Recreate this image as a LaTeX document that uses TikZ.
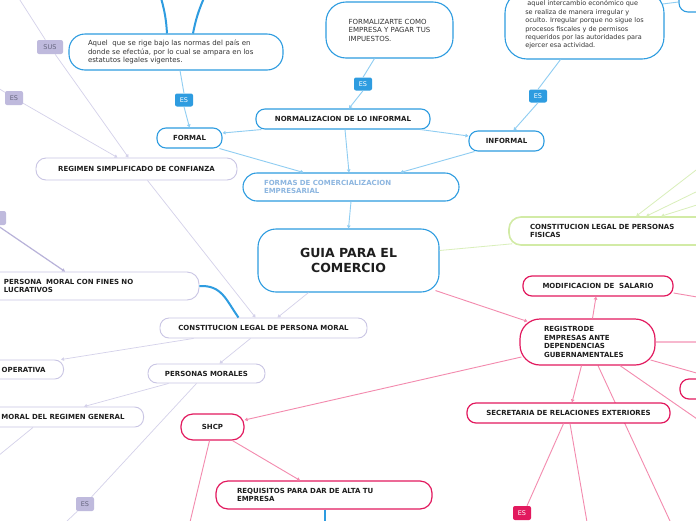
\documentclass[tikz,border=0pt]{standalone}
\usepackage{fontspec}
\setmainfont{DejaVu Sans}
\usetikzlibrary{arrows.meta,backgrounds}
\definecolor{bblue}{HTML}{2E9CE0}
\definecolor{lblue}{HTML}{8FCDF2}
\definecolor{ftext}{HTML}{8DB6E0}
\definecolor{lav}{HTML}{C9C5E4}
\definecolor{lavline}{HTML}{D4D1EA}
\definecolor{lavdark}{HTML}{B8B2D9}
\definecolor{lavfill}{HTML}{BFBADD}
\definecolor{lavtext}{HTML}{66667F}
\definecolor{grn}{HTML}{D2EBA6}
\definecolor{grnline}{HTML}{D9EFBA}
\definecolor{crim}{HTML}{E2195E}
\definecolor{pinkline}{HTML}{F38AAE}
\definecolor{pinkthick}{HTML}{F7B8CE}
\definecolor{ink}{HTML}{1E1E1E}
\definecolor{gtext}{HTML}{333333}
\begin{document}
\begin{tikzpicture}[x=1pt,y=-1pt,
  every node/.style={inner sep=0pt, text=ink},
  bf/.style={font=\fontsize{7}{8.5}\selectfont\bfseries},
  rg/.style={font=\fontsize{7}{8.5}\selectfont, text=gtext},
  rgs/.style={font=\fontsize{6.5}{8.4}\selectfont, text=gtext},
  bbox/.style={draw=bblue, line width=1.1pt, fill=white},
  lbox/.style={draw=lav, line width=0.9pt, fill=white},
  gbox/.style={draw=grn, line width=1.6pt, fill=white},
  cbox/.style={draw=crim, line width=1.2pt, fill=white},
  wh/.style n args={2}{minimum width=#1, minimum height=#2},
  padded/.style n args={2}{text width=#1, inner xsep=#2, align=left},
  tagb/.style={fill=bblue, text=white, rounded corners=2pt, minimum width=18pt, minimum height=13pt, font=\fontsize{6.5}{7}\selectfont},
  tagl/.style={fill=lavfill, text=lavtext, rounded corners=2pt, minimum height=14pt, minimum width=18pt, font=\fontsize{6.5}{7}\selectfont},
  tagc/.style={fill=crim, text=white, rounded corners=2pt, minimum width=18pt, minimum height=14pt, font=\fontsize{6.5}{7}\selectfont},
  bl/.style={draw=lblue, line width=0.9pt},
  lv/.style={draw=lavline, line width=0.7pt},
  gl/.style={draw=grnline, line width=0.8pt},
  pk/.style={draw=pinkline, line width=0.9pt},
  thickb/.style={draw=bblue, line width=2pt},
  arr/.style={-{Triangle[length=3pt,width=3.5pt]}},
]
\useasboundingbox (0,0) rectangle (696,520);
\clip (0,0) rectangle (696,520);
\begin{pgfonlayer}{background}
\fill[white] (0,0) rectangle (696,520);
\end{pgfonlayer}

% ---------- blue branch ----------
\node[bbox, wh={181pt}{63pt}, rounded corners=18pt, align=center, font=\fontsize{12.5}{15}\selectfont\bfseries] (guia) at (348.5,260.5) {GUIA PARA EL\\COMERCIO};
\node[bbox, bf, text=ftext, padded={174pt}{21pt}, minimum height=28pt, rounded corners=14pt] (formas) at (351,187) {FORMAS DE COMERCIALIZACION\\EMPRESARIAL};
\node[bbox, bf, wh={174pt}{20pt}, rounded corners=9pt] (normal) at (343,119) {NORMALIZACION DE LO INFORMAL};
\node[bbox, bf, wh={65pt}{20pt}, rounded corners=9pt] (formal) at (189.5,138) {FORMAL};
\node[bbox, bf, wh={75pt}{20pt}, rounded corners=9pt] (informal) at (506.5,141) {INFORMAL};
\node[bbox, rg, padded={176pt}{19pt}, minimum height=36pt, rounded corners=16pt] (aquel) at (176,52) {Aquel~ que se rige bajo las normas del país en\\donde se efectúa, por lo cual se ampara en los\\estatutos legales vigentes.};
\node[bbox, rg, wh={127pt}{56pt}, align=left, rounded corners=20pt] (formaliz) at (389.5,30) {FORMALIZARTE COMO\\EMPRESA Y PAGAR TUS\\IMPUESTOS.};
\node[bbox, rgs, wh={159pt}{68pt}, align=left, rounded corners=22pt] (interc) at (584.5,25) {~aquel intercambio económico que\\se realiza de manera irregular y\\oculto. Irregular porque no sigue los\\procesos fiscales y de permisos\\requeridos por las autoridades para\\ejercer esa actividad.};
\node[bbox, wh={80pt}{28pt}, rounded corners=9pt] (topr) at (719,-2) {};
\node[tagb] (esA) at (184,100) {ES};
\node[tagb] (esB) at (363,84) {ES};
\node[tagb] (esC) at (538,96) {ES};

% ---------- lavender branch ----------
\node[tagl, minimum width=26pt] (sus) at (50,47) {SUS};
\node[tagl] (esL1) at (14,98) {ES};
\node[tagl] (tagL) at (-3,218) {};
\node[lbox, bf, wh={201pt}{22pt}, rounded corners=10pt] (regimen) at (136.5,169) {REGIMEN SIMPLIFICADO DE CONFIANZA};
\node[lbox, bf, padded={175pt}{20pt}, minimum height=28pt, rounded corners=12pt] (pmfines) at (91.5,286) {PERSONA~ MORAL CON FINES NO\\LUCRATIVOS};
\node[lbox, bf, wh={207pt}{20pt}, rounded corners=9pt] (cpm) at (263.5,328) {CONSTITUCION LEGAL DE PERSONA MORAL};
\node[lbox, bf, anchor=east, inner xsep=18pt, minimum height=19pt, rounded corners=9pt] (operativa) at (64,369.5) {OPERATIVA};
\node[lbox, bf, wh={117pt}{19pt}, rounded corners=9pt] (pmorales) at (206.5,373.5) {PERSONAS MORALES};
\node[lbox, bf, anchor=east, inner xsep=19pt, minimum height=20pt, rounded corners=9pt] (moralrg) at (144,417) {MORAL DEL REGIMEN GENERAL};
\node[tagl] (esL2) at (85,504) {ES};

% ---------- green branch ----------
\node[gbox, bf, padded={179pt}{21pt}, minimum height=28pt, rounded corners=12pt] (fisicas) at (619.5,231) {CONSTITUCION LEGAL DE PERSONAS\\FISICAS};

% ---------- crimson branch ----------
\node[cbox, bf, padded={87pt}{24pt}, minimum height=46pt, rounded corners=20pt] (registro) at (587.5,342) {REGISTRODE\\EMPRESAS ANTE\\DEPENDENCIAS\\GUBERNAMENTALES};
\node[cbox, bf, wh={150pt}{20pt}, rounded corners=9pt] (modif) at (598,286) {MODIFICACION DE~ SALARIO};
\node[cbox, bf, wh={203pt}{20pt}, rounded corners=9pt] (secre) at (568.5,413) {SECRETARIA DE RELACIONES EXTERIORES};
\node[cbox, bf, wh={63pt}{26pt}, rounded corners=12pt] (shcp) at (212.5,427) {SHCP};
\node[cbox, bf, padded={174pt}{21pt}, minimum height=28pt, rounded corners=12pt] (requisitos) at (324,495) {REQUISITOS PARA DAR DE ALTA TU\\EMPRESA};
\node[cbox, wh={60pt}{20pt}, rounded corners=9pt] (rpart) at (710,389) {};
\node[tagc] (esE) at (522,513) {ES};

% ---------- free ends ----------
\coordinate (t1) at (161,-2);
\coordinate (t2) at (204,-2);
\coordinate (t3) at (18,-3);
\coordinate (t4) at (-2,88);
\coordinate (t6) at (66,522);
\coordinate (t7) at (-2,456);
\coordinate (g1) at (700,167);
\coordinate (g2) at (700,190);
\coordinate (g3) at (700,204);
\coordinate (p1) at (700,297.5);
\coordinate (p2) at (700,342);
\coordinate (p3) at (700,374);
\coordinate (p4) at (700,421);
\coordinate (p5) at (670,521);
\coordinate (p6) at (190,522);
\coordinate (p7) at (587,522);
\coordinate (b1) at (325,522);

% ---------- blue connectors ----------
\draw[bl] ([xshift=4pt]aquel.south) -- (esA.north);
\draw[bl,arr] (esA.south) -- (formal.north);
\draw[bl] ([xshift=-15pt]formaliz.south) -- (esB.north);
\draw[bl,arr] (esB.south) -- ([xshift=6pt]normal.north);
\draw[bl] ([xshift=-24pt]interc.south) -- (esC.north);
\draw[bl,arr] (esC.south) -- ([xshift=7pt]informal.north);
\draw[bl,arr] ([xshift=6pt]normal.south west) -- ([yshift=5pt]formal.east);
\draw[bl,arr] ([xshift=-10pt]normal.south east) -- ([yshift=5pt]informal.west);
\draw[bl,arr] ([xshift=-3pt]formal.south east) -- ([xshift=61pt]formas.north west);
\draw[bl,arr] ([xshift=2pt]normal.south) -- ([xshift=-2pt]formas.north);
\draw[bl,arr] ([xshift=6pt]informal.south west) -- ([xshift=-59pt]formas.north east);
\draw[bl,arr] (formas.south) -- (guia.north);
\draw[bl] ([xshift=-2pt,yshift=21pt]interc.east) -- ([yshift=-4pt]topr.west);
\draw[thickb] (t1) to[bend left=6] ([xshift=-9pt]aquel.north);
\draw[thickb] (t2) to[bend right=6] ([xshift=17pt]aquel.north);

% ---------- lavender connectors ----------
\draw[lv] (t3) -- (sus);
\draw[lv,arr] (sus) -- ([xshift=-8pt]regimen.north);
\draw[lv] (t4) -- (esL1);
\draw[lv,arr] (esL1) -- ([xshift=-19pt]regimen.north);
\draw[lv,arr] ([xshift=11pt]regimen.south) -- ([xshift=-8pt]cpm.north);
\draw[lv,arr] ([xshift=-40pt]guia.south) -- ([xshift=14pt]cpm.north);
\draw[draw=lavdark,line width=1.2pt,arr] (tagL.south) -- ([xshift=-26.5pt]pmfines.north);
\draw[thickb] (pmfines.east) .. controls (222,285) and (226,300) .. ([xshift=-25pt]cpm.north);
\draw[lv,arr] ([xshift=-70pt]cpm.south) -- ([xshift=-3pt]operativa.north east);
\draw[lv,arr] ([xshift=-13pt]cpm.south) -- ([xshift=13pt]pmorales.north);
\draw[lv,arr] ([xshift=-38pt]pmorales.south) -- ([xshift=21pt]moralrg.north);
\draw[lv] ([xshift=-10pt]pmorales.south) -- (esL2);
\draw[lv] (esL2) -- (t6);
\draw[lv] ([xshift=-30pt]moralrg.south) -- (t7);

% ---------- green connectors ----------
\draw[gl] ([yshift=10pt]guia.east) -- ([xshift=4pt,yshift=2pt]fisicas.south west);
\draw[gl,arr] (g1) -- ([xshift=128pt]fisicas.north west);
\draw[gl,arr] (g2) -- ([xshift=138pt]fisicas.north west);
\draw[gl,arr] (g3) -- ([xshift=153pt]fisicas.north west);

% ---------- crimson connectors ----------
\draw[pk,arr] ([xshift=-4pt,yshift=2pt]guia.south east) -- ([xshift=8pt,yshift=-3pt]registro.north west);
\draw[pk,arr] ([xshift=5pt]registro.north) -- ([xshift=-2pt]modif.south);
\draw[pk] ([yshift=-7pt]modif.east) -- (p1);
\draw[draw=pinkthick,line width=1.6pt] (registro.east) -- (p2);
\draw[pk] ([xshift=-5pt,yshift=-18pt]registro.east) -- (p3);
\draw[pk] ([xshift=32.5pt]registro.south) -- (p4);
\draw[pk,arr] ([xshift=-6pt]registro.south) -- ([xshift=3.5pt]secre.north);
\begin{pgfonlayer}{background}
\draw[pk] ([xshift=10.5pt]registro.south) -- (p5);
\end{pgfonlayer}
\draw[pk,arr] ([xshift=2pt,yshift=-15pt]registro.west) -- ([yshift=7pt]shcp.east);
\draw[pk] ([xshift=-3pt]shcp.south) -- (p6);
\draw[pk,arr] ([xshift=20pt]shcp.south) -- ([xshift=-24pt]requisitos.north);
\draw[pk] ([xshift=-5pt]secre.south) -- ([xshift=5pt]esE.north);
\draw[pk] ([xshift=1.5pt]secre.south) -- (p7);
\draw[thickb] ([xshift=1pt]requisitos.south) -- (b1);
\end{tikzpicture}
\end{document}
